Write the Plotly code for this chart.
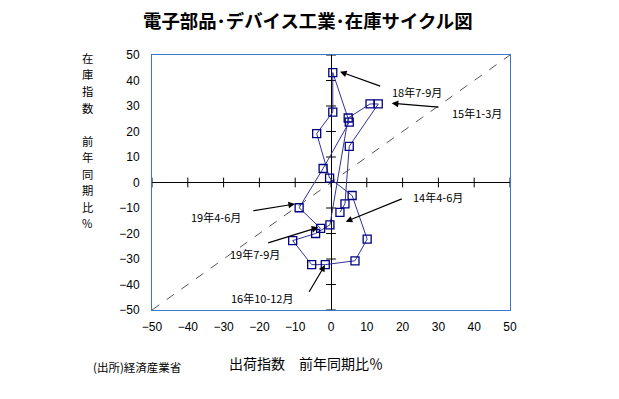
import plotly.graph_objects as go

# ---- data ----
quarters = ["14Q2", "14Q3", "14Q4", "15Q1", "15Q2", "15Q3", "15Q4", "16Q1", "16Q2", "16Q3",
            "16Q4", "17Q1", "17Q2", "17Q3", "17Q4", "18Q1", "18Q2", "18Q3", "18Q4", "19Q1",
            "19Q2", "19Q3"]
shipments_yoy = [2.5, 3.9, 5.1, 13.2, 10.9, 4.8, -0.3, -4.3, -10.7, -5.4,
                 -1.6, 6.7, 10.1, 5.9, -0.4, -4.0, 0.5, 0.5, 5.1, -2.2,
                 -8.9, -2.9]
inventory_yoy = [-11.7, -8.4, 14.2, 30.8, 30.8, 25.3, -16.6, -20.0, -22.8, -32.2,
                 -32.2, -30.7, -22.2, -5.1, 1.7, 19.2, 27.6, 43.1, 23.7, 5.5,
                 -9.9, -18.0]
axis_min, axis_max = -50, 50
tick_vals = list(range(-50, 51, 10))
tick_text = [str(v).replace("-", "\u2212") for v in tick_vals]
y_title_chars = ["在", "庫", "指", "数", "", "前", "年", "同", "期", "比", "%"]

# ---- geometry helpers (page pixel -> paper / data) ----
OFF = 8  # page body margin around the plot div
L, R, T, B = 152, 510, 55, 310
W, H = 619 - OFF, 399 - OFF


def px_paper(px):
    return (px - L) / (R - L)


def py_paper(py):
    return (B - py) / (B - T)


def px_data(px):
    return axis_min + (px - L) / (R - L) * (axis_max - axis_min)


def py_data(py):
    return axis_min + (B - py) / (B - T) * (axis_max - axis_min)


JP = "Noto Sans CJK JP"
fig = go.Figure()

# 45-degree reference line
fig.add_trace(go.Scatter(x=[axis_min, axis_max], y=[axis_min, axis_max], mode="lines",
                         line=dict(color="#555555", width=1, dash="dash"),
                         hoverinfo="skip", showlegend=False))
# tick marks on the zero axes
fig.add_trace(go.Scatter(x=tick_vals, y=[0] * len(tick_vals), mode="markers",
                         marker=dict(symbol="line-ns", size=7, line=dict(width=1, color="black")),
                         hoverinfo="skip", showlegend=False, cliponaxis=False))
fig.add_trace(go.Scatter(x=[0] * len(tick_vals), y=tick_vals, mode="markers",
                         marker=dict(symbol="line-ew", size=7, line=dict(width=1, color="black")),
                         hoverinfo="skip", showlegend=False, cliponaxis=False))
# inventory cycle
fig.add_trace(go.Scatter(x=shipments_yoy, y=inventory_yoy, text=quarters, mode="lines+markers",
                         line=dict(color="#333399", width=1),
                         marker=dict(symbol="square-open", size=8, color="#000080",
                                     line=dict(width=1.3, color="#000080")),
                         showlegend=False))

fig.update_xaxes(range=[axis_min, axis_max], tickvals=tick_vals, ticktext=tick_text,
                 showgrid=False, zeroline=True, zerolinecolor="black", zerolinewidth=1,
                 showline=True, mirror=True, linecolor="#3c78c8", linewidth=1,
                 ticks="", ticklabelstandoff=6, tickfont=dict(size=12, color="black"))
fig.update_yaxes(range=[axis_min, axis_max], tickvals=tick_vals, ticktext=tick_text,
                 showgrid=False, zeroline=True, zerolinecolor="black", zerolinewidth=1,
                 showline=True, mirror=True, linecolor="#3c78c8", linewidth=1,
                 ticks="", ticklabelstandoff=9, tickfont=dict(size=12, color="black"))

annotations = []


def text_ann(txt, cx, cy, size, bold=False):
    annotations.append(dict(text=("<b>%s</b>" % txt) if bold else txt,
                            x=px_paper(cx), y=py_paper(cy), xref="paper", yref="paper",
                            xanchor="center", yanchor="middle", showarrow=False, borderpad=0,
                            font=dict(family=JP, size=size, color="black")))


def arrow_ann(tip, tail):
    annotations.append(dict(text="", x=px_data(tip[0]), y=py_data(tip[1]),
                            ax=px_data(tail[0]), ay=py_data(tail[1]),
                            xref="x", yref="y", axref="x", ayref="y",
                            showarrow=True, arrowhead=2, arrowsize=1.1, arrowwidth=1.2,
                            arrowcolor="black", standoff=0, startstandoff=0))


text_ann("電子部品･デバイス工業･在庫サイクル図", 308, 20, 18.4, bold=True)
for i, ch in enumerate(y_title_chars):
    if ch:
        text_ann(ch, 87, 58 + i * 16.5, 11.3)
text_ann("出荷指数　前年同期比％", 306, 363, 14)
text_ann("(出所)経済産業省", 137, 367, 11.5)

labels = [
    ("18年7-9月", (417, 92), (340, 71.7), (381.7, 86.7)),
    ("15年1-3月", (477, 113), (391.7, 103.3), (440, 107.3)),
    ("14年4-6月", (438, 197), (345.7, 221.7), (403.3, 198.3)),
    ("19年4-6月", (216, 217), (295, 204), (251.7, 211)),
    ("19年7-9月", (255, 254), (318.3, 227.3), (266.7, 243.3)),
    ("16年10-12月", (262, 298), (325, 265), (308.3, 293.3)),
]
for txt, pos, tip, tail in labels:
    text_ann(txt, pos[0], pos[1], 11)
    arrow_ann(tip, tail)

fig.update_layout(width=W, height=H,
                  margin=dict(l=L - OFF, r=W - (R - OFF), t=T - OFF, b=H - (B - OFF)),
                  plot_bgcolor="white", paper_bgcolor="white",
                  font=dict(family="Liberation Sans, " + JP, color="black"),
                  annotations=annotations, showlegend=False)

fig.write_html("out.html")
